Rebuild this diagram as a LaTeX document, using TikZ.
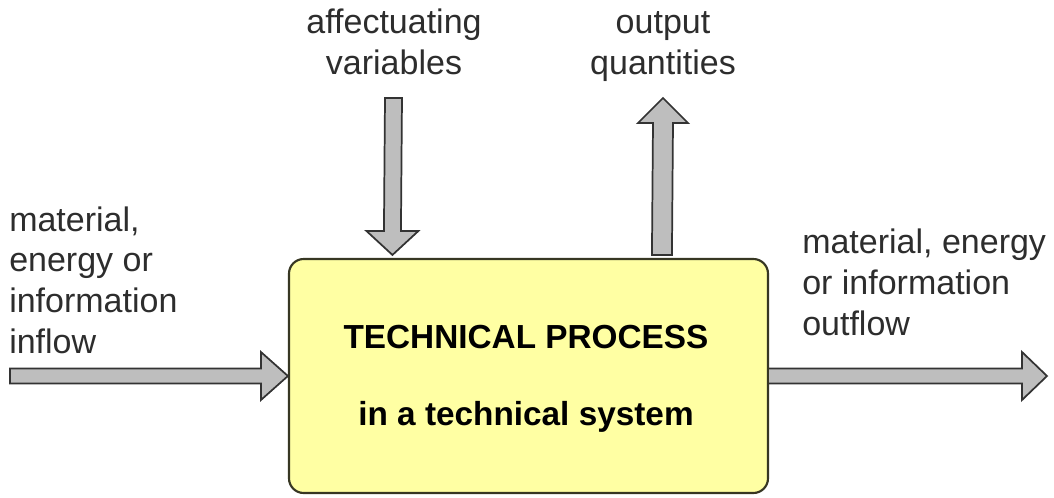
\documentclass[tikz,border=0pt]{standalone}
\usepackage{fontspec}
\setmainfont{Liberation Sans}
\usetikzlibrary{calc}
\definecolor{boxfill}{RGB}{255,255,163}
\definecolor{boxline}{RGB}{55,55,35}
\definecolor{arrfill}{RGB}{190,190,190}
\definecolor{txt}{RGB}{45,45,45}
\tikzset{
  fatarrow/.style={draw=black!80, fill=arrfill, line width=1.3pt, line join=miter},
  lbl/.style={text=txt, font=\fontsize{25.5}{30.4}\selectfont, inner sep=0pt},
  procbox/.style={draw=boxline, fill=boxfill, line width=1.6pt, rounded corners=11pt,
    minimum width=359.25pt, minimum height=175.5pt, inner sep=0pt},
}
\begin{document}
\begin{tikzpicture}[x=0.75pt,y=-0.75pt]
\useasboundingbox (0,0) rectangle (1054,497);
\node[procbox] (box) at (528.5,376) {};
\node[font=\bfseries\fontsize{25}{25}\selectfont, anchor=base, inner sep=0pt] (t1) at (526,348) {TECHNICAL PROCESS};
\node[font=\bfseries\fontsize{25}{25}\selectfont, anchor=base, inner sep=0pt] (t2) at (526,425) {in a technical system};
% coordinates
\coordinate (inS) at (10,376);
\coordinate (outE) at (1047,376);
\coordinate (affS) at (393.5,98);
\coordinate (affT) at ($(box.north west)+(104.5,0)$);
\coordinate (outB) at ($(box.north west)+(374,0)$);
\coordinate (outT) at (663,98);
% left inflow arrow
\draw[fatarrow] ($(inS)+(0,-7.5)$) -- ($(box.west)+(-27,-7.5)$) -- ($(box.west)+(-27,-24)$) -- (box.west)
  -- ($(box.west)+(-27,24)$) -- ($(box.west)+(-27,7.5)$) -- ($(inS)+(0,7.5)$) -- cycle;
% right outflow arrow
\draw[fatarrow] ($(box.east)+(0,-7.5)$) -- ($(outE)+(-25,-7.5)$) -- ($(outE)+(-25,-24)$) -- (outE)
  -- ($(outE)+(-25,24)$) -- ($(outE)+(-25,7.5)$) -- ($(box.east)+(0,7.5)$);
% down arrow (affectuating variables)
\draw[fatarrow] ($(affS)+(-8.5,0)$) -- ($(affT)+(-8.5,-27)$) -- ($(affT)+(-26,-27)$) -- ($(affT)+(0,-3)$)
  -- ($(affT)+(26,-27)$) -- ($(affT)+(8.5,-27)$) -- ($(affS)+(8.5,0)$) -- cycle;
% up arrow (output quantities)
\draw[fatarrow] ($(outB)+(-10,-3)$) -- ($(outT)+(-10,25)$) -- ($(outT)+(-25,25)$) -- (outT)
  -- ($(outT)+(25,25)$) -- ($(outT)+(10,25)$) -- ($(outB)+(10,-3)$) -- cycle;
% labels (base anchor = last line)
\node[lbl, align=center, anchor=base] (laff) at (394,74) {affectuating\\variables};
\node[lbl, align=center, anchor=base] (lout) at (663,74) {output\\quantities};
\node[lbl, align=left, anchor=base west] (lin) at (9,353) {material,\\energy or\\information\\inflow};
\node[lbl, align=left, anchor=base west] (lright) at (802,335) {material, energy\\or information\\outflow};
\end{tikzpicture}
\end{document}
